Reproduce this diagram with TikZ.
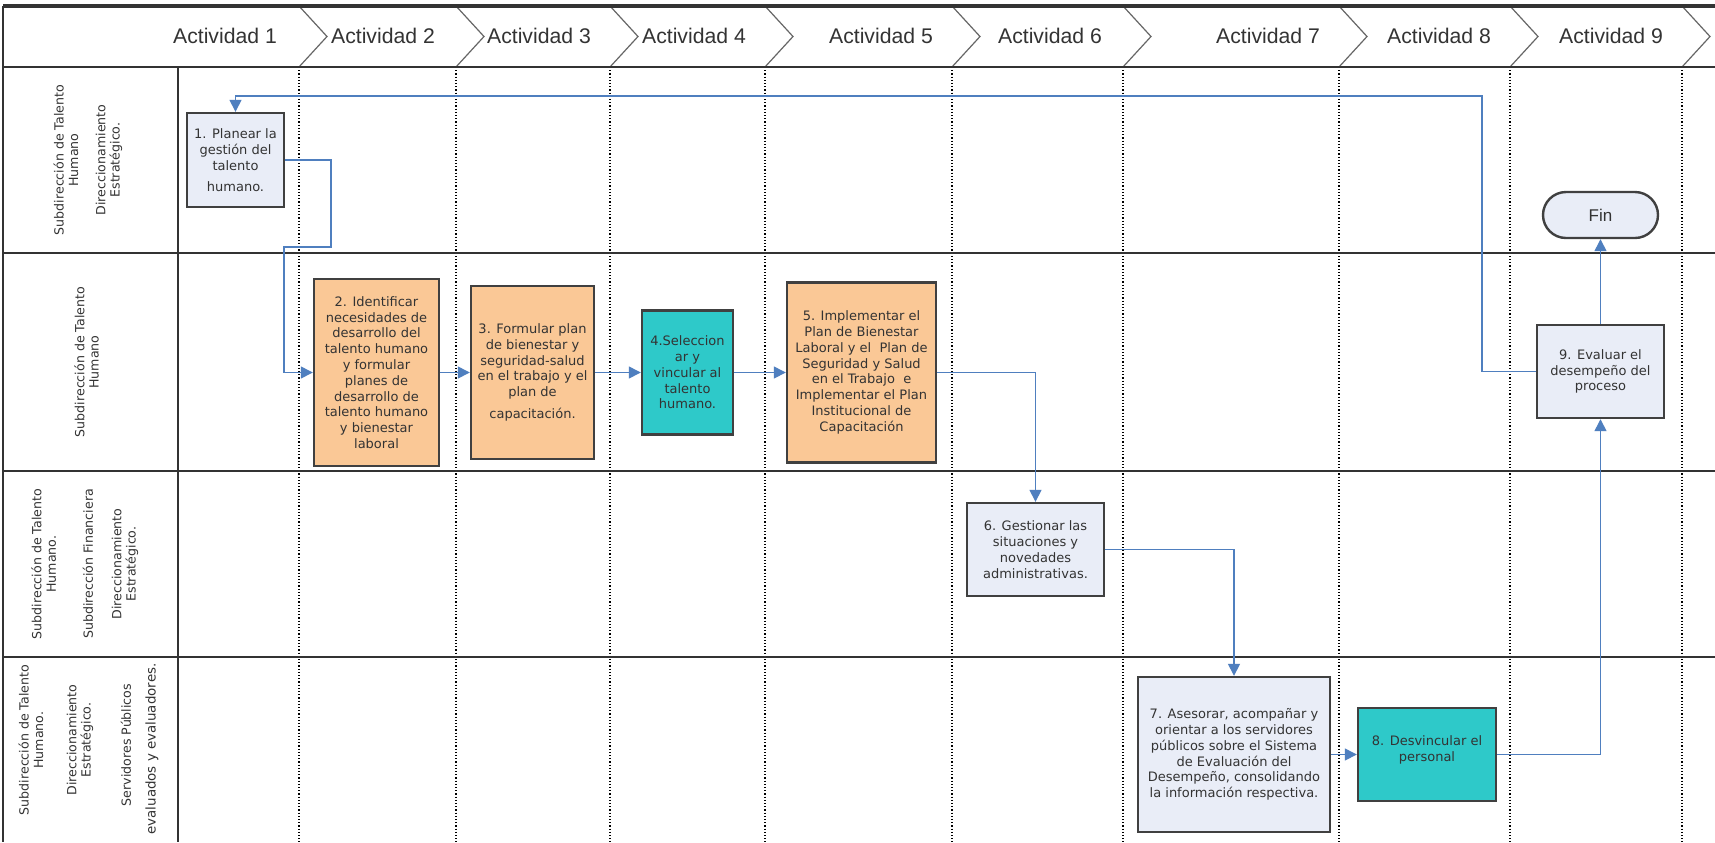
\documentclass[tikz,border=0pt]{standalone}
\usepackage{fontspec}
\setmainfont{DejaVu Sans}
\newfontfamily\arialf{Liberation Sans}
\usetikzlibrary{arrows.meta}
\definecolor{boxblue}{HTML}{E9EDF7}
\definecolor{boxorange}{HTML}{FAC896}
\definecolor{boxteal}{HTML}{2EC9C9}
\definecolor{flowblue}{HTML}{4F7FBF}
\definecolor{edgegray}{HTML}{404040}
\definecolor{txtgray}{HTML}{333333}
\begin{document}
\begin{tikzpicture}[x=0.5pt,y=-0.5pt,
  procbox/.style={draw=edgegray,line width=1.2pt,align=center,inner sep=1pt,text=txtgray,font=\fontsize{6.5}{7.9}\selectfont},
  lightbox/.style={procbox,fill=boxblue},
  orangebox/.style={procbox,fill=boxorange},
  tealbox/.style={procbox,fill=boxteal},
  flow/.style={draw=flowblue,line width=0.7pt,-{Triangle[length=6pt,width=6pt]}},
  lanelabel/.style={rotate=90,align=center,text=txtgray,font=\fontsize{6.3}{7.2}\selectfont,inner sep=0pt},
  hdr/.style={font=\arialf\fontsize{10.6}{12}\selectfont,text=txtgray,inner sep=0pt},
  divider/.style={draw=txtgray,line width=1.1pt},
  colline/.style={draw=black,densely dotted,line width=0.6pt},
  chev/.style={draw=gray!80!black,line width=0.6pt}
]
\useasboundingbox (0,0) rectangle (1715,842);
\fill[white] (0,0) rectangle (1715,842);

% column dotted lines
\foreach \x in {299,456,610,765,952,1123,1339,1510,1682}{
  \draw[colline] (\x,67) -- (\x,842);
  \draw[chev] (\x,6) -- (\x+28,36.5) -- (\x,67);
}

% frame and lanes
\draw[divider,line width=1.6pt] (3,6) -- (1715,6);
\draw[divider,line width=1.4pt] (3,6) -- (3,842);
\draw[divider] (3,67) -- (1715,67);
\draw[divider] (3,253) -- (1715,253);
\draw[divider] (3,471) -- (1715,471);
\draw[divider] (3,657) -- (1715,657);
\draw[divider] (178,67) -- (178,842);

% header
\node[hdr] (h1) at (225,36) {Actividad 1};
\node[hdr] (h2) at (383,36) {Actividad 2};
\node[hdr] (h3) at (539,36) {Actividad 3};
\node[hdr] (h4) at (694,36) {Actividad 4};
\node[hdr] (h5) at (881,36) {Actividad 5};
\node[hdr] (h6) at (1050,36) {Actividad 6};
\node[hdr] (h7) at (1268,36) {Actividad 7};
\node[hdr] (h8) at (1439,36) {Actividad 8};
\node[hdr] (h9) at (1611,36) {Actividad 9};

% lane labels
\node[lanelabel] (l1a) at (66,160) {Subdirección de Talento\\Humano};
\node[lanelabel] (l1b) at (109,160) {Direccionamiento\\Estratégico.};
\node[lanelabel] (l2a) at (86.5,362) {Subdirección de Talento\\Humano};
\node[lanelabel] (l3a) at (43.7,564) {Subdirección de Talento\\Humano.};
\node[lanelabel] (l3b) at (88,564) {Subdirección Financiera};
\node[lanelabel] (l3c) at (125,564) {Direccionamiento\\Estratégico.};
\node[lanelabel] (l4a) at (31,740) {Subdirección de Talento\\Humano.};
\node[lanelabel] (l4b) at (80,740) {Direccionamiento\\Estratégico.};
\node[lanelabel] (l4c) at (126,745) {Servidores Públicos};
\node[lanelabel,font=\fontsize{6.7}{7}\selectfont] (l4d) at (152,749) {evaluados y evaluadores.};

% boxes
\node[lightbox,minimum width=48.5pt,minimum height=47pt] (b1) at (235.5,160)
  {1. Planear la\\gestión del\\talento\\[2.5pt]humano.};
\node[orangebox,minimum width=62.5pt,minimum height=93.5pt] (b2) at (376.5,372.5)
  {2. Identificar\\necesidades de\\desarrollo del\\talento humano\\y formular\\planes de\\desarrollo de\\talento humano\\y bienestar\\laboral};
\node[orangebox,minimum width=61.5pt,minimum height=86.5pt] (b3) at (532.5,372.5)
  {3. Formular plan\\de bienestar y\\seguridad-salud\\en el trabajo y el\\plan de\\[3pt]capacitación.};
\node[tealbox,minimum width=45.5pt,minimum height=62pt] (b4) at (687.5,372.5)
  {4.Seleccion\\ar y\\vincular al\\talento\\humano.};
\node[orangebox,minimum width=74.5pt,minimum height=90pt] (b5) at (861.5,372.5)
  {5. Implementar el\\Plan de Bienestar\\Laboral y el~ Plan de\\Seguridad y Salud\\en el Trabajo~ e\\Implementar el Plan\\Institucional de\\Capacitación};
\node[lightbox,minimum width=68.5pt,minimum height=46.5pt] (b6) at (1035.5,549.5)
  {6. Gestionar las\\situaciones y\\novedades\\administrativas.};
\node[lightbox,minimum width=96pt,minimum height=77.5pt] (b7) at (1234,754.5)
  {7. Asesorar, acompañar y\\orientar a los servidores\\públicos sobre el Sistema\\de Evaluación del\\Desempeño, consolidando\\la información respectiva.};
\node[tealbox,minimum width=69pt,minimum height=46.5pt,text depth=6pt] (b8) at (1427,754.5)
  {8. Desvincular el\\personal};
\node[lightbox,minimum width=63.5pt,minimum height=46.5pt] (b9) at (1600.5,371.5)
  {9. Evaluar el\\desempeño del\\proceso};
\node[draw=edgegray,line width=1.2pt,fill=boxblue,rounded corners=11.5pt,minimum width=57.5pt,minimum height=23pt,text=txtgray,font=\arialf\fontsize{8.5}{10}\selectfont] (fin) at (1600.5,215) {Fin};

% connectors
\draw[flow] (b1.east) -| (331,247) -- (284,247) |- (b2.west);
\draw[flow] (b2.east) -- (b3.west);
\draw[flow] (b3.east) -- (b4.west);
\draw[flow] (b4.east) -- (b5.west);
\draw[flow] (b5.east) -| (b6.north);
\draw[flow] (b6.east) -| (b7.north);
\draw[flow] (b7.east) -- (b8.west);
\draw[flow] (b8.east) -| (b9.south);
\draw[flow] (b9.north) -- (fin.south);
\draw[flow] (b9.west) -| (1482,96) -| (b1.north);
\end{tikzpicture}
\end{document}
